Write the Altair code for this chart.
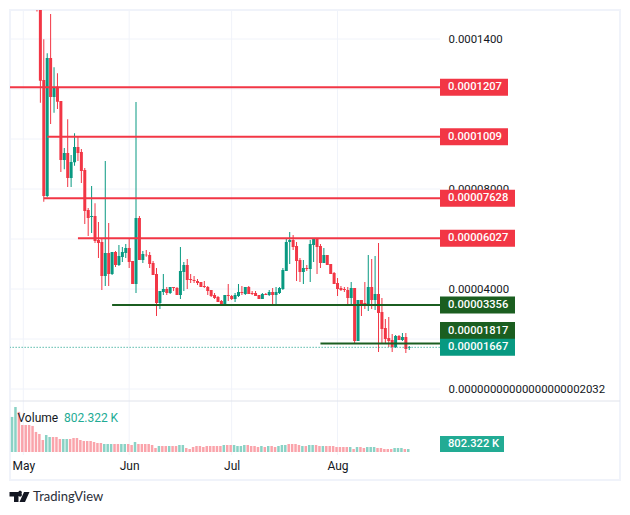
import altair as alt
import pandas as pd

FONT = "Roboto"
RED = "#F23645"
GREEN = "#089981"
DARK = "#1B5E20"
GRID = "#F0F3FA"
TEXT = "#131722"

# price in millionths (1e-6); candles begin 5 May
opens = [175, 175, 123.6, 77.2, 132.4, 116.8, 120.9, 115.2, 91.6, 94.4, 84.4, 90.7, 96.8, 94.8, 87.6, 71.6, 68.8, 69.2, 59.6, 58.8, 45.2, 54.4, 46, 54.8, 49.6, 52.8, 54.4, 56.4, 51.2, 42, 68.4,
         51.6, 53.7, 53.6, 50.4, 46, 34.4, 38.8, 40, 38.4, 40.8, 40.4, 37.6, 46.8, 49.6, 44, 43.6, 43.2, 42.8, 41.2, 40.8, 39.6, 37.6, 36.8, 35.2, 33.2, 37.6, 37.2, 36, 37.2, 38.8, 38, 40.8, 38.4, 38.4, 37.6, 36, 38, 37.6, 38.8, 37.6, 38.4, 40, 47.2,
         58.8, 59.6, 57.2, 51.6, 46.8, 48.4, 48, 57.6, 60, 57.2, 50.4, 53.6, 50, 46.4, 42.4, 40.4, 40, 39.6, 36.4, 40.4, 19.2, 35.6, 34.4, 33.6, 40.8, 35.6, 38, 30.8, 24.4, 20.4, 19.6, 16.8, 21.2, 19.6, 20.8, 16.4]
closes = [160, 123.3, 77.2, 132.4, 116.8, 120.7, 114.9, 91.6, 94.4, 84.4, 90.8, 96.8, 94.4, 87.2, 71.2, 68.4, 69.2, 59.2, 58.4, 45.2, 54.4, 46, 54.8, 49.6, 53.2, 54.8, 56.4, 50.8, 42, 68.4, 51.6,
          54, 53.5, 50, 45.6, 34.4, 39.2, 40, 38.4, 40.8, 40.4, 37.6, 47.2, 49.6, 43.6, 43.6, 43.2, 42.4, 40.8, 40.8, 39.2, 37.2, 36.4, 34.8, 33.2, 37.6, 37.2, 36, 37.6, 38.8, 38.4, 40.8, 38, 38, 37.2, 36, 38, 37.6, 38.8, 37.6, 38.8, 40.4, 47.6, 58.8,
          59.6, 56.8, 51.2, 46.8, 48.4, 48, 58, 60, 56.8, 50.4, 53.6, 49.6, 46, 42, 40, 39.6, 39.6, 36.4, 40.4, 19.2, 35.6, 34, 34, 40.8, 35.6, 38, 30.4, 24, 20, 19.2, 16.8, 21.2, 19.6, 20.8, 16, 16.67]
highs = [180, 190, 139.9, 134.3, 150, 128.7, 126.3, 115.2, 96.4, 107.9, 93.6, 102.3, 101.2, 96, 88.4, 72.4, 81.2, 74.3, 66.8, 60.4, 91.2, 66.4, 54.8, 55.2, 57.6, 56.8, 58, 60.4, 51.2, 114.8, 69.2,
         55.2, 55.6, 54.8, 51.2, 48.4, 39.2, 46, 40.8, 40.8, 40.8, 40.8, 56.8, 50.8, 52, 46, 45.2, 44, 42.8, 43.2, 41.2, 39.6, 38.4, 37.2, 35.6, 37.6, 42, 37.6, 38.4, 42, 41.2, 40.8, 41.2, 39.2, 39.2, 37.6, 38.4, 38.4, 39.6, 40.4, 40.8, 40.8, 48.4, 60,
         62.8, 61.6, 58.8, 52.4, 51.6, 49.6, 59.6, 60.4, 60.4, 58, 56.4, 53.6, 50, 46.8, 44.4, 41.2, 40.8, 40.8, 42.8, 40.4, 35.6, 35.6, 42.8, 53.6, 52, 53.2, 58.4, 36.4, 28, 28.8, 22, 21.6, 21.6, 22.4, 22.4, 17.2]
lows = [151, 114.5, 74.9, 76.7, 106, 110.5, 112, 86.8, 87.9, 80.8, 80.8, 89.3, 91.2, 82.4, 66, 61.2, 62.4, 58.4, 52.4, 39.6, 41.2, 41.2, 45.6, 48.8, 49.2, 50.8, 52.4, 48.4, 42, 38.4, 51.6,
        50.4, 52.9, 48.4, 45.6, 29.2, 32, 37.6, 37.6, 38, 39.2, 37.6, 36, 39.2, 40, 42.4, 42.4, 41.6, 40.8, 40.4, 37.6, 36.8, 36, 34.8, 33.2, 33.2, 35.2, 35.6, 34.8, 36.8, 37.6, 37.6, 38, 37.6, 37.2, 36, 36, 37.6, 37.2, 33.6, 33.6, 38, 39.6, 47.2,
        50, 55.6, 43.2, 42.8, 42, 47.2, 42.8, 50.8, 46, 48.4, 50.4, 49.6, 46, 42, 37.2, 39.2, 38.8, 33.6, 33.6, 18.4, 19.2, 29.2, 32, 31.2, 32, 31.6, 14.8, 18, 18.4, 16.8, 14.8, 16.4, 19.6, 19.2, 14.4, 15.6]

# volume in thousands; bars begin 28 April
volumes = [9350, 12000, 10700, 7200, 7200, 7200, 6950, 5350, 4800, 3200, 4540, 4000, 4000, 4000, 3470, 3470, 3470, 3470, 3740, 3740, 3200, 2940, 2940, 2940, 2670, 2400, 2400, 2140, 2140, 2140,
           2140, 2140, 2140, 2140, 2140, 1870, 2670, 2140, 2140, 2140, 2140, 1870, 1070, 1600, 1600, 1600, 1600, 1600, 1600, 1870, 1870, 1070, 802, 1340, 1600, 1600, 1340, 1600, 1600,
           1600, 1600, 1600, 1870, 1870, 1870, 1870, 1600, 1600, 1870, 1870, 1600, 1600, 1340, 1600, 1340, 1600, 1600, 1340, 1600, 1870, 1870, 2140, 2140, 2140, 1870, 1600, 1600, 1870,
           1870, 1870, 1600, 1600, 1600, 1600, 1600, 1340, 1340, 1340, 1340, 1340, 802, 1340, 1340, 1070, 1340, 1340, 1340, 1070, 1070, 802, 802, 802, 1070, 1070, 1070, 802, 802]
vol_up = ("ggrrrrrrrrggrrrggrrrrrrrrrrggg"
          + "rrggrrgrrrrrrgrrgrrggrrrrrrrr"
          + "rrrgrrggggrrrrgrgrrgggrrrrgrg"
          + "grrgrrrrrrrgrgrrgggrrrrrgggrg")

tick_values = [2.032e-14, 40, 80, 140]
tick_last = "0.00000000000000000002032"
grid_values = [0, 20, 40, 60, 80, 100, 120, 140]
month_starts = ["2024-05-01", "2024-06-01", "2024-07-01", "2024-08-01"]

level_prices = [120.7, 100.9, 76.28, 60.27, 33.56, 18.17]
level_starts = ["2024-04-27", "2024-05-08", "2024-05-07", "2024-05-17", "2024-05-27", "2024-07-27"]
level_colors = ["r", "r", "r", "r", "d", "d"]

tag_pos = [120.7, 100.9, 76.28, 60.27, 33.56, 23.4, 16.67]
tag_text = ["0.0001207", "0.0001009", "0.00007628", "0.00006027", "0.00003356", "0.00001817", "0.00001667"]
tag_kind = ["r", "r", "r", "r", "d", "d", "g"]

last_price = 16.67
volume_text = "802.322 K"

candle_dates = pd.date_range("2024-05-05", periods=len(opens)).strftime("%Y-%m-%d")
candles = pd.DataFrame({"d": candle_dates, "o": opens, "c": closes, "h": highs, "l": lows})
candles["dir"] = ["up" if c >= o else "down" for o, c in zip(opens, closes)]
vol = pd.DataFrame({"d": pd.date_range("2024-04-28", periods=len(volumes)).strftime("%Y-%m-%d"),
                    "v": volumes, "dir": list(vol_up)[:len(volumes)]})

x_scale = alt.Scale(type="utc", domain=["2024-05-01", "2024-08-31"], range=[13.3, 430], padding=0)
p_scale = alt.Scale(domain=[0, 140], range=[379, 29], nice=False, zero=False)
v_scale = alt.Scale(domain=[0, 12000], range=[442, 397], nice=False)
dir_color = alt.Color("dir:N", legend=None,
                      scale=alt.Scale(domain=["up", "down"], range=[GREEN, RED]))
kind_color = alt.Color("k:N", legend=None,
                       scale=alt.Scale(domain=["r", "d", "g"], range=[RED, DARK, GREEN]))


def X(f):
    return alt.X(f, scale=x_scale, axis=None)


def P(f):
    return alt.Y(f, scale=p_scale, axis=None)


hgrid = alt.Chart(pd.DataFrame({"v": grid_values, "s": "2024-04-27", "e": "2024-08-31"})).mark_rule(
    color=GRID, strokeWidth=1, clip=True
).encode(
    x=alt.X("s:T", scale=x_scale, axis=alt.Axis(
        values=month_starts, format="%b", title=None, grid=False, domain=False, ticks=False,
        labelFont=FONT, labelFontSize=12, labelColor=TEXT, labelPadding=2, offset=-22,
        labelOverlap=False, labelFlush=False, labelBound=False)),
    x2="e:T",
    y=alt.Y("v:Q", scale=p_scale, axis=alt.Axis(
        orient="right", offset=-180, values=tick_values, title=None, grid=False, domain=False,
        ticks=False, labelFont=FONT, labelFontSize=11.4, labelColor=TEXT, labelPadding=8,
        labelAlign="left", labelOverlap=False, labelBound=False, labelFlush=False,
        labelExpr=("datum.value >= 100 ? format(datum.value / 1000000, '.7f') : "
                   "datum.value >= 10 ? format(datum.value / 1000000, '.8f') : '" + tick_last + "'"))),
)

vgrid = alt.Chart(pd.DataFrame({"d": month_starts})).mark_rule(color=GRID, strokeWidth=1).encode(
    x=X("d:T"), y=alt.value(0), y2=alt.value(445)
)
separator = alt.Chart(pd.DataFrame({"s": ["sep"]})).mark_rule(color="#E0E3EB", strokeWidth=1).encode(
    x=alt.value(0), x2=alt.value(610), y=alt.value(391)
)

vol_bars = alt.Chart(vol).mark_bar(width=2.5, xOffset=-1).encode(
    x=X("d:T"),
    y=alt.Y("v:Q", scale=v_scale, axis=None),
    color=alt.Color("dir:N", legend=None,
                    scale=alt.Scale(domain=["g", "r"], range=["#8AD2C5", "#FAA4AB"])),
)

wicks = alt.Chart(candles).mark_rule(strokeWidth=1, clip=True).encode(
    x=X("d:T"), y=P("h:Q"), y2="l:Q", color=dir_color
)
bodies = alt.Chart(candles).mark_bar(width=3, clip=True).encode(
    x=X("d:T"), y=P("o:Q"), y2="c:Q", color=dir_color
)

levels = alt.Chart(pd.DataFrame({"v": level_prices, "s": level_starts, "e": "2024-08-31", "k": level_colors})).mark_rule(
    strokeWidth=2, clip=True
).encode(x=X("s:T"), x2="e:T", y=P("v:Q"), color=kind_color)

last_line = alt.Chart(pd.DataFrame({"v": [last_price], "s": "2024-04-27", "e": "2024-08-31"})).mark_rule(
    strokeWidth=1, strokeDash=[1, 2], color=GREEN, clip=True
).encode(x=X("s:T"), x2="e:T", y=P("v:Q"))

tags = pd.DataFrame({"v": tag_pos, "t": tag_text, "k": tag_kind, "n": [len(t) for t in tag_text]})
tag_short = alt.Chart(tags[tags.n == 9]).mark_rule(strokeWidth=17).encode(
    x=alt.value(430), x2=alt.value(498), y=P("v:Q"), color=kind_color)
tag_long = alt.Chart(tags[tags.n == 10]).mark_rule(strokeWidth=17).encode(
    x=alt.value(430), x2=alt.value(505), y=P("v:Q"), color=kind_color)
tag_txt = alt.Chart(tags).mark_text(align="left", baseline="middle", font=FONT, fontSize=11.2, color="white", fontWeight=500).encode(
    x=alt.value(438), y=P("v:Q"), text="t:N")

vol_tag = alt.Chart(pd.DataFrame({"t": [volume_text]})).mark_rule(strokeWidth=16, color="#22AB94").encode(
    x=alt.value(430), x2=alt.value(494), y=alt.value(434))
vol_tag_txt = alt.Chart(pd.DataFrame({"t": [volume_text]})).mark_text(
    align="left", baseline="middle", font=FONT, fontSize=11.2, color="white", fontWeight=500
).encode(x=alt.value(438), y=alt.value(434), text="t:N")

vol_title = alt.Chart(pd.DataFrame({"t": ["Volume"]})).mark_text(
    align="left", baseline="middle", font=FONT, fontSize=12, color=TEXT
).encode(x=alt.value(7.5), y=alt.value(407.5), text="t:N")
vol_value = alt.Chart(pd.DataFrame({"t": [volume_text]})).mark_text(
    align="left", baseline="middle", font=FONT, fontSize=12, color="#22AB94"
).encode(x=alt.value(54), y=alt.value(407.5), text="t:N")

logo_path = ("M-1,-0.5H-0.1V0.5H-0.55V-0.05H-1Z "
             "M0.2,-0.32A0.18,0.18 0 1 1 -0.08,-0.32A0.18,0.18 0 1 1 0.2,-0.32Z "
             "M0.45,-0.5H1L0.55,0.5H0Z")
logo = alt.Chart(pd.DataFrame({"t": ["logo"]})).mark_point(
    shape=logo_path, size=400, filled=True, color=TEXT, opacity=1
).encode(x=alt.value(9.5), y=alt.value(487))
brand = alt.Chart(pd.DataFrame({"t": ["TradingView"]})).mark_text(
    align="left", baseline="middle", font="Lato", fontSize=13, color="#2A2E39"
).encode(x=alt.value(23), y=alt.value(487), text="t:N")

chart = alt.layer(
    hgrid, vgrid, separator, vol_bars, wicks, bodies, levels, last_line,
    tag_short, tag_long, tag_txt, vol_tag, vol_tag_txt, vol_title, vol_value, logo, brand,
).resolve_scale(y="independent", color="independent").resolve_axis(x="independent").properties(
    width=610, height=470,
    padding={"left": 2, "top": 2, "right": 2, "bottom": 35},
    autosize=alt.AutoSizeParams(type="none"),
    background="white",
).configure_view(stroke="#F0F3FA", strokeWidth=2)

chart.save("out.html", embed_options={"renderer": "svg", "actions": False})
